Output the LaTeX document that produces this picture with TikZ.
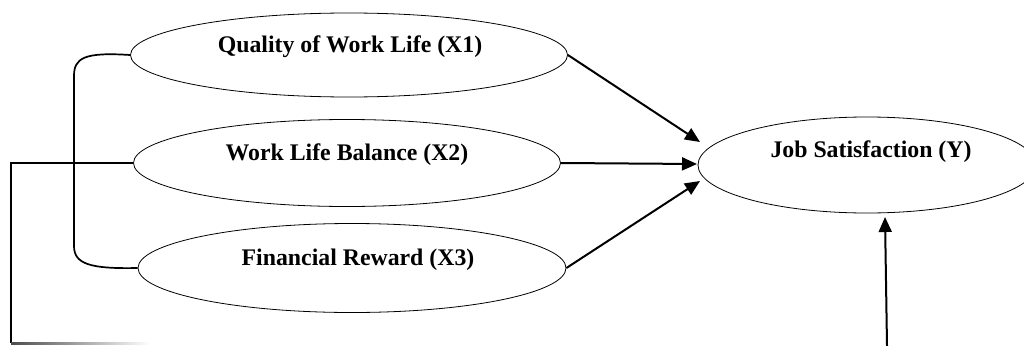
\documentclass[tikz,border=0pt]{standalone}
\usepackage{fontspec}
\setmainfont{Liberation Serif}
\usetikzlibrary{shapes.geometric,arrows.meta}
\begin{document}
\begin{tikzpicture}[x=1pt,y=-1pt,
  ell/.style={draw,ellipse,line width=0.8pt,inner sep=0pt},
  lbl/.style={font=\fontsize{23.8}{28}\selectfont\bfseries,inner sep=0pt},
  arr/.style={line width=2pt,-{Triangle[length=15pt,width=13pt]}},
  conn/.style={line width=1.7pt}]
\useasboundingbox (0,0) rectangle (1024,345);
\node[ell,minimum width=437pt,minimum height=84pt] (e1) at (349,55) {};
\node[ell,minimum width=427pt,minimum height=87pt] (e2) at (347,163) {};
\node[ell,minimum width=428pt,minimum height=89pt] (e3) at (352,268) {};
\node[ell,minimum width=338pt,minimum height=96pt] (ey) at (867,165) {};
\node[lbl] (t1) at (350,47) {Quality of Work Life (X1)};
\node[lbl] (t2) at (347,155) {Work Life Balance (X2)};
\node[lbl] (t3) at (358,260) {Financial Reward (X3)};
\node[lbl] (ty) at (871,152) {Job Satisfaction (Y)};
\coordinate (p1) at (700,142);
\coordinate (p2) at (697,164);
\coordinate (p3) at (700,181);
\coordinate (p4) at (885,217);
\coordinate (b4) at (887,346);
\coordinate (c1) at (11,343);
\draw[arr] (e1.east) -- (p1);
\draw[arr] (e2.east) -- (p2);
\draw[arr] (e3.east) -- (p3);
\draw[arr] (b4) -- (p4);
\draw[conn] (e1.west) .. controls (84,52) and (74,58) .. (74,76) -- (74,246) .. controls (74,264) and (90,269) .. (e3.west);
\draw[line width=1.2pt] (e2.west) -| (c1);
\shade[left color=black!70,right color=white] (11,342.4) rectangle (150,344.2);
\end{tikzpicture}
\end{document}
